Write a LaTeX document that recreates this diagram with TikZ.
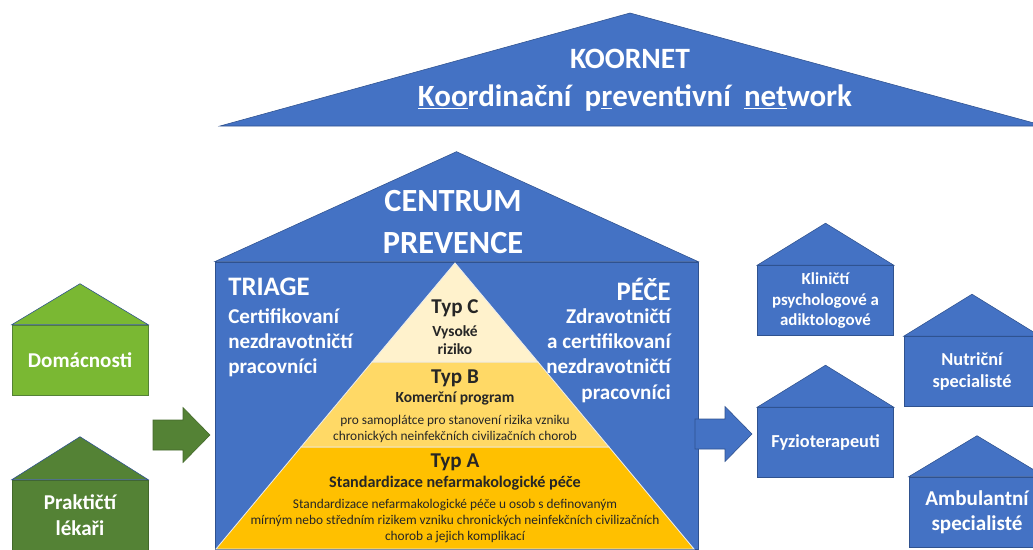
\documentclass[tikz,border=0pt]{standalone}
\usepackage{fontspec}
\setmainfont{Carlito}
\usepackage{tikz}
\usetikzlibrary{calc, positioning}
\definecolor{modra}{HTML}{4472C4}
\definecolor{modratmava}{HTML}{2F528F}
\definecolor{zelena}{HTML}{7AB833}
\definecolor{zelenatmava}{HTML}{548235}
\definecolor{typc}{HTML}{FFF2CC}
\definecolor{typb}{HTML}{FFD966}
\definecolor{typa}{HTML}{FFC000}
\newcommand{\velikost}[1]{\fontsize{#1}{1.2\dimexpr #1pt\relax}\selectfont}
\newcommand{\strecha}[3]{\filldraw[strecha, fill=#3] (#1.north west) -- ($(#1.north)+(0,-#2)$) -- (#1.north east) -- cycle;}
% blokova sipka: #1 = levy okraj stredu, #2 = vypln, #3 = obrys
\newcommand{\sipka}[3]{\filldraw[fill=#2, draw=#3, line width=0.4pt] (#1) ++(0,-15) -- ++(30,0) -- ++(0,-12.5) -- ++(27,27.5) -- ++(-27,27.5) -- ++(0,-12.5) -- ++(-30,0) -- cycle;}

\begin{document}
\begin{tikzpicture}[x=0.025cm, y=-0.025cm,
    dum/.style={draw=modratmava, line width=0.4pt, fill=modra, minimum width=3.4cm, minimum height=1.75cm, align=center, text=white, font=\bfseries\velikost{13}, inner sep=1pt},
    strecha/.style={draw=modratmava, line width=0.4pt},
    bila/.style={text=white, font=\bfseries, inner sep=0pt},
    vrstva/.style={draw=white!85!gray, line width=0.6pt},
    popis/.style={text=black!85, align=center, inner sep=0pt}
]
    \useasboundingbox (0,0) rectangle (1033,549);

    % KOORNET
    \filldraw[strecha, fill=modra] (220,126) -- (630,13) -- (1045,126) -- cycle;
    \node[bila, font=\bfseries\velikost{21}] (koornet) at (630,59) {KOORNET};
    \node[bila, font=\bfseries\velikost{22}] (network) at (635,98)
        {\underline{Koo}rdinační\hspace{0.2em} p\underline{r}eventivní\hspace{0.2em} \underline{net}work};

    % centrum prevence
    \node[draw=modratmava, fill=modra, minimum width=12.075cm, minimum height=7.175cm] (centrum) at (456.5,405.5) {};
    \strecha{centrum}{110}{modra}
    \node[bila, align=center, font=\bfseries\velikost{23}] (nazev) at (453,222) {CENTRUM\\[2pt]PREVENCE};

    \node[bila, anchor=north west, font=\bfseries\velikost{19}] (triage) at (228,278) {TRIAGE};
    \node[bila, anchor=north west, align=left, font=\bfseries\velikost{15}] (triagetxt) at (228,308)
        {Certifikovaní\\nezdravotničtí\\pracovníci};
    \node[bila, anchor=north east, font=\bfseries\velikost{19}] (pece) at (671,278) {PÉČE};
    \node[bila, anchor=north east, align=right, font=\bfseries\velikost{15}] (pecetxt) at (671,308)
        {Zdravotničtí\\a certifikovaní\\nezdravotničtí\\pracovníci};

    % pyramida
    \filldraw[vrstva, fill=typa] (301,447) -- (609,447) -- (694,549) -- (216,549) -- cycle;
    \filldraw[vrstva, fill=typb] (372,362) -- (538,362) -- (609,447) -- (301,447) -- cycle;
    \filldraw[vrstva, fill=typc] (455,263) -- (538,362) -- (372,362) -- cycle;

    \node[popis, font=\bfseries\velikost{15}] (typc) at (455,308) {Typ C};
    \node[popis, font=\bfseries\velikost{11}] (typctxt) at (455,340) {Vysoké\\riziko};
    \node[popis, font=\bfseries\velikost{15}] (typb) at (455,378) {Typ B};
    \node[popis, font=\bfseries\velikost{11}] (typbtxt) at (455,398) {Komerční program};
    \node[popis, font=\velikost{9.5}] (typbmaly) at (455,429)
        {pro samoplátce pro stanovení rizika vzniku\\chronických neinfekčních civilizačních chorob};
    \node[popis, font=\bfseries\velikost{15}] (typa) at (455,462) {Typ A};
    \node[popis, font=\bfseries\velikost{11.5}] (typatxt) at (455,483) {Standardizace nefarmakologické péče};
    \node[popis, font=\velikost{9.5}] (typamaly) at (455,521)
        {Standardizace nefarmakologické péče u osob s definovaným\\mírným nebo středním rizikem vzniku chronických neinfekčních civilizačních\\chorob a jejich komplikací};

    % vstupy
    \node[dum, fill=zelena, draw=zelenatmava, font=\bfseries\velikost{15}] (domacnosti) at (80,360) {Domácnosti};
    \strecha{domacnosti}{41}{zelena}
    \node[dum, fill=zelenatmava, draw=zelenatmava!80!black, font=\bfseries\velikost{15}] (lekari) at (80,515) {Praktičtí\\lékaři};
    \strecha{lekari}{43}{zelenatmava}
    \coordinate (vstup) at (153,435);
    \sipka{vstup}{zelenatmava}{zelenatmava!80!black}

    % vystupy
    \coordinate (vystup) at (695,434);
    \sipka{vystup}{modra}{modratmava}
    \node[dum, font=\bfseries\velikost{12}] (psycho) at (825.5,300.5) {Kliničtí\\psychologové a\\adiktologové};
    \strecha{psycho}{42}{modra}
    \node[dum] (fyzio) at (825.5,442.5) {Fyzioterapeuti};
    \strecha{fyzio}{42}{modra}
    \node[dum] (nutri) at (972,371.5) {Nutriční\\specialisté};
    \strecha{nutri}{42}{modra}
    \node[dum, font=\bfseries\velikost{15}] (ambul) at (977,512) {Ambulantní\\specialisté};
    \strecha{ambul}{41}{modra}
\end{tikzpicture}
\end{document}
